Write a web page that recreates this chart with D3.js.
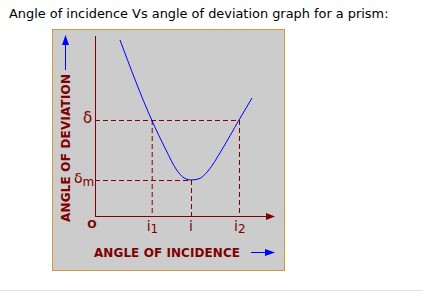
<!DOCTYPE html>
<html>
<head>
<meta charset="utf-8">
<script src="https://cdn.jsdelivr.net/npm/d3@7"></script>
<style>
  body { margin: 0; background: #fff; }
  svg { display: block; }
</style>
</head>
<body>
<svg id="chart"></svg>
<script>
// Data (degrees, arbitrary but consistent units)
var incidence = [12.5, 28.35, 35.5, 40.85, 44, 48, 52, 56.5, 63.35, 72, 78.5];
var deviation = [88, 48, 33, 23, 19.4, 18, 18.6, 22.5, 33, 48, 59];
var markI = [28.35, 48, 72];           // i1, i, i2
var markSubs = ["1", "", "2"];
var deltaLevels = [48, 18];            // δ, δm
var deltaSubs = ["", "m"];

var W = 423, H = 292;
var darkRed = "#800000";
var font = "DejaVu Sans, Verdana, sans-serif";

var svg = d3.select("#chart").attr("width", W).attr("height", H);

// title
svg.append("text")
    .attr("x", 9).attr("y", 18)
    .attr("font-family", font)
    .attr("font-size", 12.9)
    .attr("fill", "#000")
    .text("Angle of incidence Vs angle of deviation graph for a prism:");

// grey bottom rule
svg.append("line")
    .attr("x1", 0).attr("x2", W).attr("y1", 290.5).attr("y2", 290.5)
    .attr("stroke", "#dfe5ea");

// panel
svg.append("rect")
    .attr("x", 52.5).attr("y", 29.5).attr("width", 232).attr("height", 241)
    .attr("fill", "#cccccc").attr("stroke", "#d09a3a");

// scales
var x = d3.scaleLinear().domain([0, 90]).range([95, 275]);
var y = d3.scaleLinear().domain([0, 90]).range([216, 36]);

var g = svg.append("g");

// dashed guide lines
markI.forEach(function(v, k) {
    var dv = k === 1 ? deltaLevels[1] : deltaLevels[0];
    g.append("line")
        .attr("x1", x(v) + 0.5).attr("x2", x(v) + 0.5)
        .attr("y1", y(dv)).attr("y2", y(0))
        .attr("stroke", darkRed).attr("stroke-dasharray", "5,3");
});
g.append("line")
    .attr("x1", x(0)).attr("x2", x(markI[2]))
    .attr("y1", y(deltaLevels[0]) + 0.5).attr("y2", y(deltaLevels[0]) + 0.5)
    .attr("stroke", darkRed).attr("stroke-dasharray", "5,3");
g.append("line")
    .attr("x1", x(0)).attr("x2", x(markI[1]))
    .attr("y1", y(deltaLevels[1]) + 0.5).attr("y2", y(deltaLevels[1]) + 0.5)
    .attr("stroke", darkRed).attr("stroke-dasharray", "5,3");

// axes
g.append("line")
    .attr("x1", x(0) + 0.5).attr("x2", x(0) + 0.5)
    .attr("y1", y(90)).attr("y2", y(0) + 0.5)
    .attr("stroke", darkRed);
g.append("line")
    .attr("x1", x(0)).attr("x2", x(88))
    .attr("y1", y(0) + 0.5).attr("y2", y(0) + 0.5)
    .attr("stroke", darkRed);
// x-axis arrow head
var ax = x(90), ay = y(0) + 0.5;
g.append("path")
    .attr("d", "M" + (ax - 9) + "," + (ay - 3.5) + "L" + ax + "," + ay + "L" + (ax - 9) + "," + (ay + 3.5) + "Z")
    .attr("fill", darkRed);

// curve
var pts = incidence.map(function(v, k) { return [v, deviation[k]]; });
g.append("path")
    .datum(pts)
    .attr("fill", "none")
    .attr("stroke", "#0000ff")
    .attr("stroke-width", 1)
    .attr("d", d3.line()
        .x(function(d) { return x(d[0]); })
        .y(function(d) { return y(d[1]); })
        .curve(d3.curveMonotoneX));

// delta labels
deltaLevels.forEach(function(v, k) {
    var t = g.append("text")
        .attr("x", k === 0 ? 83 : 74).attr("y", y(v) + 3)
        .attr("font-family", font).attr("font-size", k === 0 ? 15 : 14)
        .attr("fill", darkRed)
        .text("δ");
    if (deltaSubs[k]) {
        t.append("tspan").attr("dy", 3).attr("font-size", 12).text(deltaSubs[k]);
    }
});

// incidence labels
markI.forEach(function(v, k) {
    var t = g.append("text")
        .attr("x", x(v) - (markSubs[k] ? 5 : 2)).attr("y", 231)
        .attr("font-family", font).attr("font-size", 14)
        .attr("fill", darkRed)
        .text("i");
    if (markSubs[k]) {
        t.append("tspan").attr("dy", 2).attr("font-size", 12).text(markSubs[k]);
    }
});

// origin
g.append("text")
    .attr("x", 92).attr("y", 228)
    .attr("text-anchor", "middle")
    .attr("font-family", font).attr("font-size", 11).attr("font-weight", "bold")
    .attr("fill", darkRed)
    .text("O");

// axis titles
g.append("text")
    .attr("x", 94).attr("y", 257)
    .attr("font-family", font).attr("font-size", 12).attr("font-weight", "bold")
    .attr("fill", darkRed)
    .attr("textLength", 146)
    .text("ANGLE OF INCIDENCE");

g.append("text")
    .attr("transform", "translate(70,222) rotate(-90)")
    .attr("font-family", font).attr("font-size", 12).attr("font-weight", "bold")
    .attr("fill", darkRed)
    .attr("textLength", 148)
    .text("ANGLE OF DEVIATION");

// blue arrows
g.append("line")
    .attr("x1", 251).attr("x2", 268).attr("y1", 252.5).attr("y2", 252.5)
    .attr("stroke", "#0000ff");
g.append("path")
    .attr("d", "M265,249L275,252.5L265,256Z")
    .attr("fill", "#0000ff");

g.append("line")
    .attr("x1", 65.5).attr("x2", 65.5).attr("y1", 42).attr("y2", 70)
    .attr("stroke", "#0000ff");
g.append("path")
    .attr("d", "M62,45L65.5,35L69,45Z")
    .attr("fill", "#0000ff");
</script>
</body>
</html>
